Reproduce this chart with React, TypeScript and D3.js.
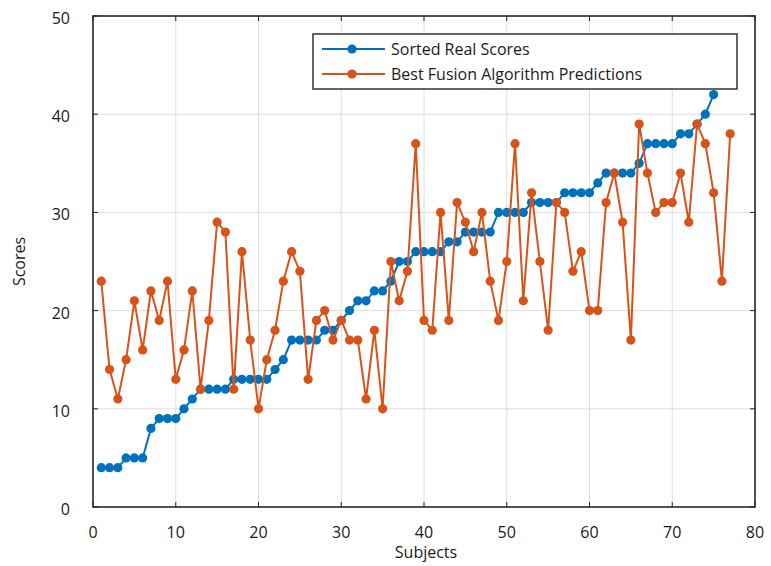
import React from "react";
import * as d3 from "d3";

// Sorted real scores for subjects 1..75
const realScores: number[] = [
  4, 4, 4, 5, 5, 5, 8, 9, 9, 9,
  10, 11, 12, 12, 12, 12, 13, 13, 13, 13,
  13, 14, 15, 17, 17, 17, 17, 18, 18, 19,
  20, 21, 21, 22, 22, 23, 25, 25, 26, 26,
  26, 26, 27, 27, 28, 28, 28, 28, 30, 30,
  30, 30, 31, 31, 31, 31, 32, 32, 32, 32,
  33, 34, 34, 34, 34, 35, 37, 37, 37, 37,
  38, 38, 39, 40, 42,
];

// Predictions of the best fusion algorithm for subjects 1..77
const predictedScores: number[] = [
  23, 14, 11, 15, 21, 16, 22, 19, 23, 13,
  16, 22, 12, 19, 29, 28, 12, 26, 17, 10,
  15, 18, 23, 26, 24, 13, 19, 20, 17, 19,
  17, 17, 11, 18, 10, 25, 21, 24, 37, 19,
  18, 30, 19, 31, 29, 26, 30, 23, 19, 25,
  37, 21, 32, 25, 18, 31, 30, 24, 26, 20,
  20, 31, 34, 29, 17, 39, 34, 30, 31, 31,
  34, 29, 39, 37, 32, 23, 38,
];

const xTicks: number[] = [0, 10, 20, 30, 40, 50, 60, 70, 80];
const yTicks: number[] = [0, 10, 20, 30, 40, 50];

const seriesNames: string[] = ["Sorted Real Scores", "Best Fusion Algorithm Predictions"];
const seriesColors: string[] = ["#0072BD", "#D95319"];

const W = 771;
const H = 566;
const M = { left: 93, right: 16, top: 16, bottom: 59 };
const FONT = "'Open Sans', 'Liberation Sans', sans-serif";

export default function App() {
  const x = d3.scaleLinear().domain([0, 80]).range([M.left, W - M.right]);
  const y = d3.scaleLinear().domain([0, 50]).range([H - M.bottom, M.top]);

  const line = d3
    .line<number>()
    .x((_, i) => x(i + 1))
    .y((d) => y(d));

  const series = [realScores, predictedScores];
  const x0 = x(0), x1 = x(80), y0 = y(0), y1 = y(50);
  const tickLen = 5;

  const lg = { x: 313, y: 34, w: 424, h: 55 };

  return (
    <svg width={W} height={H} style={{ position: "absolute", left: 0, top: 0, background: "#fff" }} fontFamily={FONT}>
      {/* grid */}
      {xTicks.slice(1, -1).map((t) => (
        <line key={"gx" + t} x1={x(t)} x2={x(t)} y1={y1} y2={y0} stroke="#dedede" strokeWidth={1} />
      ))}
      {yTicks.slice(1, -1).map((t) => (
        <line key={"gy" + t} x1={x0} x2={x1} y1={y(t)} y2={y(t)} stroke="#dedede" strokeWidth={1} />
      ))}

      {/* ticks on all four sides, pointing inward */}
      {xTicks.map((t) => (
        <g key={"tx" + t} stroke="#262626" strokeWidth={1}>
          <line x1={x(t)} x2={x(t)} y1={y0} y2={y0 - tickLen} />
          <line x1={x(t)} x2={x(t)} y1={y1} y2={y1 + tickLen} />
        </g>
      ))}
      {yTicks.map((t) => (
        <g key={"ty" + t} stroke="#262626" strokeWidth={1}>
          <line x1={x0} x2={x0 + tickLen} y1={y(t)} y2={y(t)} />
          <line x1={x1} x2={x1 - tickLen} y1={y(t)} y2={y(t)} />
        </g>
      ))}

      {/* series */}
      {series.map((data, si) => (
        <g key={"s" + si}>
          <path d={line(data) || ""} fill="none" stroke={seriesColors[si]} strokeWidth={2} />
          {data.map((v, i) => (
            <circle key={i} cx={x(i + 1)} cy={y(v)} r={4.6} fill={seriesColors[si]} />
          ))}
        </g>
      ))}

      {/* axes box */}
      <rect x={x0} y={y1} width={x1 - x0} height={y0 - y1} fill="none" stroke="#262626" strokeWidth={1.6} />

      {/* tick labels */}
      {xTicks.map((t) => (
        <text key={"lx" + t} x={x(t)} y={y0 + 31} textAnchor="middle" fontSize={16} fill="#1a1a1a">
          {t}
        </text>
      ))}
      {yTicks.map((t) => (
        <text key={"ly" + t} x={x0 - 23} y={y(t) + 8} textAnchor="end" fontSize={16} fill="#1a1a1a">
          {t}
        </text>
      ))}

      {/* axis titles */}
      <text x={(x0 + x1) / 2 + 2} y={y0 + 51} textAnchor="middle" fontSize={16} fill="#1a1a1a">
        Subjects
      </text>
      <text
        transform={`translate(25, ${(y0 + y1) / 2}) rotate(-90)`}
        textAnchor="middle"
        fontSize={16}
        fill="#1a1a1a"
      >
        Scores
      </text>

      {/* legend */}
      <rect x={lg.x} y={lg.y} width={lg.w} height={lg.h} fill="#fff" stroke="#262626" strokeWidth={1.4} />
      {seriesNames.map((name, i) => {
        const cy = lg.y + 15 + i * 25;
        return (
          <g key={"lg" + i}>
            <line x1={lg.x + 9} x2={lg.x + 72} y1={cy} y2={cy} stroke={seriesColors[i]} strokeWidth={2} />
            <circle cx={lg.x + 39} cy={cy} r={4.6} fill={seriesColors[i]} />
            <text x={lg.x + 78} y={cy + 6} fontSize={16} fill="#1a1a1a">
              {name}
            </text>
          </g>
        );
      })}
    </svg>
  );
}
